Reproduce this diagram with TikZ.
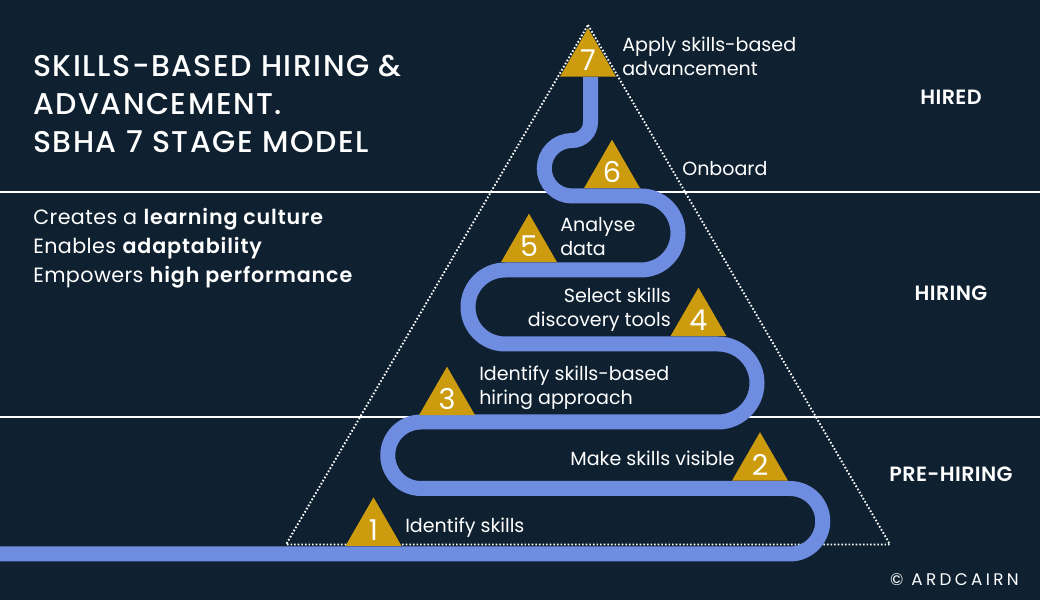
\documentclass[tikz,border=0pt]{standalone}
\usepackage{fontspec}
\setmainfont[BoldFont={Poppins SemiBold}]{Poppins}
\newfontfamily\titlefont[LetterSpace=5]{Poppins Medium}
\newfontfamily\blurbfont[LetterSpace=2,BoldFont={Poppins SemiBold},BoldFeatures={LetterSpace=4.2}]{Poppins}
\usetikzlibrary{shapes.geometric}
\definecolor{bgblue}{RGB}{15,33,48}
\definecolor{roadblue}{RGB}{110,140,224}
\definecolor{gold}{RGB}{204,155,14}
\tikzset{
  stage/.style={regular polygon, regular polygon sides=3, minimum size=48.5pt, inner sep=0pt, outer sep=0pt, fill=gold, text=white, font=\fontsize{21.5}{21.5}\selectfont},
  label/.style={text=white, inner sep=0pt, font=\fontsize{14.3}{18}\selectfont},
  phase/.style={text=white, inner sep=0pt, font=\fontsize{15.5}{18}\selectfont\bfseries\addfontfeatures{LetterSpace=2}},
  heading/.style={text=white, inner sep=0pt, anchor=west, align=left, font=\titlefont\fontsize{22.5}{28.5}\selectfont},
  blurb/.style={text=white, inner sep=0pt, anchor=west, align=left, font=\blurbfont\fontsize{15.5}{21.75}\selectfont}
}

\begin{document}
\begin{tikzpicture}[x=0.75pt,y=0.75pt]
\useasboundingbox (0,0) rectangle (1040,600);
\fill[bgblue] (0,0) rectangle (1040,600);

\draw[white, line width=1.1pt] (0,408) -- (1040,408);
\draw[white, line width=1.1pt] (0,183) -- (1040,183);
\draw[white, line width=1.4pt, dash pattern=on 1.2pt off 1.5pt] (588,575) -- (890,55.5) -- (286,55.5) -- cycle;

\draw[roadblue, line width=11.25pt] (0,46) -- (790,46) arc (-90:90:32.75)
  -- (421,111.5) arc (270:90:33.25)
  -- (718,178) arc (-90:90:39)
  -- (505,256) arc (270:90:37)
  -- (641,330) arc (-90:90:37)
  -- (572,404) arc (270:90:27.75)
  arc (-90:0:18.5) -- (590.5,523);

\node[stage] (one) at (373.5,70.3) {1};
\node[stage] (two) at (760,135.5) {2};
\node[stage] (three) at (447,201) {3};
\node[stage] (four) at (698.5,280) {4};
\node[stage] (five) at (529,354) {5};
\node[stage] (six) at (612,428) {6};
\node[stage] (seven) at (588,539.5) {7};

\node[label, anchor=west] (identify) at (405,72) {Identify skills};
\node[label, anchor=east] (visible) at (735,142) {Make skills visible};
\node[label, anchor=west, align=left] (approach) at (479,212) {Identify skills-based\\hiring approach};
\node[label, anchor=east, align=right] (tools) at (671,290) {Select skills\\discovery tools};
\node[label, anchor=west, align=left] (analyse) at (560,363) {Analyse\\data};
\node[label, anchor=west] (onboard) at (682,431) {Onboard};
\node[label, anchor=west, align=left] (apply) at (622,544) {Apply skills-based\\advancement};

\node[phase] (hired) at (951,503) {HIRED};
\node[phase] (hiring) at (951,307) {HIRING};
\node[phase] (prehiring) at (951,126) {PRE-HIRING};

\node[heading] (title) at (33,496.5) {SKILLS-BASED HIRING \&\\ADVANCEMENT.\\SBHA 7 STAGE MODEL};
\node[blurb] (benefits) at (33,352) {Creates a \textbf{learning culture}\\Enables \textbf{adaptability}\\Empowers \textbf{high performance}};

\node[text=white, inner sep=0pt, anchor=east, font=\fontsize{12.6}{12.6}\selectfont\addfontfeatures{LetterSpace=20}] (brand) at (1019,20) {© ARDCAIRN};
\end{tikzpicture}
\end{document}
